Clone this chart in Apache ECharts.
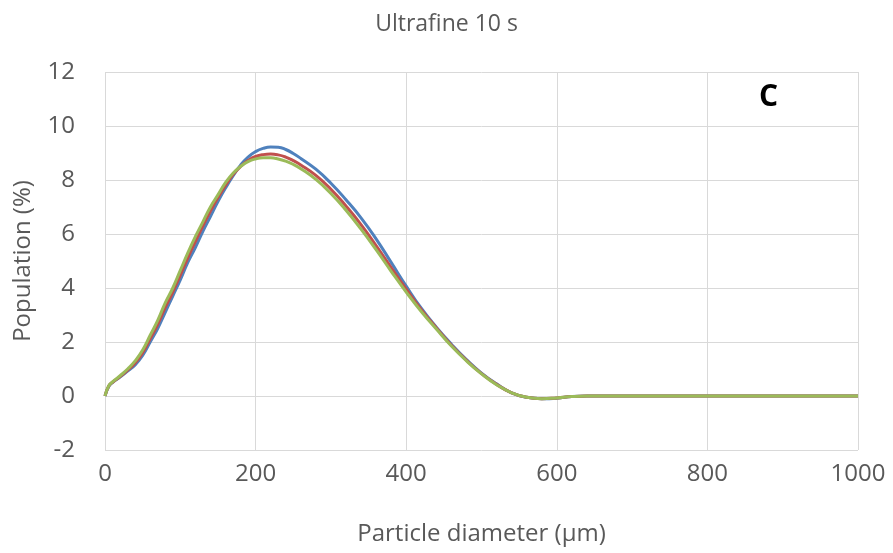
<!DOCTYPE html>
<html>
<head>
<meta charset="utf-8">
<script src="https://cdn.jsdelivr.net/npm/echarts@6/dist/echarts.min.js"></script>
<style>
  html, body { margin: 0; padding: 0; background: #fff; }
  #chart { width: 893px; height: 553px; }
</style>
</head>
<body>
<div id="chart"></div>
<script>
// particle diameter (um)
var diameters = [0, 5, 10, 20, 30, 40, 50, 60, 70, 80, 90, 100, 110, 120, 130, 140, 150, 160, 170, 180, 190, 200, 210, 220, 230, 240, 250, 260, 280, 300, 320, 340, 360, 380, 400, 420, 440, 460, 480, 500, 520, 540, 560, 580, 600, 620, 640, 700, 800, 900, 1000];

var series1 = [0, 0.35, 0.5, 0.7, 0.92, 1.15, 1.5, 2.0, 2.5, 3.1, 3.7, 4.3, 4.95, 5.5, 6.1, 6.65, 7.2, 7.7, 8.15, 8.55, 8.85, 9.05, 9.17, 9.22, 9.21, 9.13, 8.98, 8.8, 8.4, 7.88, 7.27, 6.6, 5.82, 4.95, 4.07, 3.25, 2.55, 1.92, 1.35, 0.85, 0.45, 0.12, -0.05, -0.1, -0.08, -0.02, 0, 0, 0, 0, 0];

var series2 = [0, 0.37, 0.51, 0.72, 0.96, 1.22, 1.6, 2.12, 2.65, 3.28, 3.85, 4.48, 5.12, 5.72, 6.3, 6.85, 7.35, 7.8, 8.2, 8.5, 8.72, 8.87, 8.94, 8.96, 8.93, 8.85, 8.72, 8.56, 8.17, 7.66, 7.04, 6.35, 5.57, 4.76, 3.96, 3.2, 2.52, 1.88, 1.32, 0.83, 0.43, 0.12, -0.05, -0.1, -0.07, -0.02, 0, 0, 0, 0, 0];

var series3 = [0, 0.38, 0.52, 0.75, 1.0, 1.3, 1.7, 2.25, 2.8, 3.45, 4.0, 4.65, 5.3, 5.9, 6.45, 7.0, 7.45, 7.9, 8.25, 8.5, 8.68, 8.78, 8.82, 8.82, 8.78, 8.7, 8.58, 8.42, 8.02, 7.5, 6.88, 6.18, 5.42, 4.62, 3.85, 3.13, 2.48, 1.85, 1.3, 0.82, 0.42, 0.12, -0.05, -0.1, -0.07, -0.02, 0, 0, 0, 0, 0];

var colors = ['#4F81BD', '#C0504D', '#9BBB59'];

function pairs(vals) {
    var out = [];
    for (var i = 0; i < diameters.length; i++) {
        out.push([diameters[i], vals[i]]);
    }
    return out;
}

var font = 'Open Sans';
var myChart = echarts.init(document.getElementById('chart'));

var option = {
    animation: false,
    textStyle: { fontFamily: font },
    title: {
        text: 'Ultrafine 10 s',
        left: 'center',
        top: 8,
        textStyle: { color: '#595959', fontSize: 23, fontWeight: 'normal', fontFamily: font }
    },
    grid: { left: 105, right: 35, top: 72, bottom: 103, outerBoundsMode: 'none' },
    xAxis: {
        type: 'value',
        min: 0,
        max: 1000,
        interval: 200,
        name: 'Particle diameter (\u03bcm)',
        nameLocation: 'middle',
        nameGap: 72,
        nameTextStyle: { color: '#595959', fontSize: 24, fontFamily: font },
        axisLine: { show: false },
        axisTick: { show: false },
        axisLabel: {
            color: '#595959', fontSize: 24, margin: 12, fontFamily: font,
            formatter: function (v) { return String(v); }
        },
        splitLine: { lineStyle: { color: '#d9d9d9', width: 1 } }
    },
    yAxis: {
        type: 'value',
        min: -2,
        max: 12,
        interval: 2,
        name: 'Population (%)',
        nameLocation: 'middle',
        nameGap: 70,
        nameTextStyle: { color: '#595959', fontSize: 24, fontFamily: font },
        axisLine: { show: false },
        axisTick: { show: false },
        axisLabel: { color: '#595959', fontSize: 24, margin: 30, fontFamily: font },
        splitLine: { lineStyle: { color: '#d9d9d9', width: 1 } }
    },
    graphic: [{
        type: 'text',
        left: 759,
        top: 82,
        style: { text: 'C', fontSize: 30, fontWeight: 'bold', fill: '#000', fontFamily: font }
    }],
    series: [
        { name: 'S1', type: 'line', smooth: true, showSymbol: false, data: pairs(series1), lineStyle: { width: 3, color: colors[0] }, itemStyle: { color: colors[0] } },
        { name: 'S2', type: 'line', smooth: true, showSymbol: false, data: pairs(series2), lineStyle: { width: 3, color: colors[1] }, itemStyle: { color: colors[1] } },
        { name: 'S3', type: 'line', smooth: true, showSymbol: false, data: pairs(series3), lineStyle: { width: 3, color: colors[2] }, itemStyle: { color: colors[2] } }
    ]
};

myChart.setOption(option);
</script>
</body>
</html>
